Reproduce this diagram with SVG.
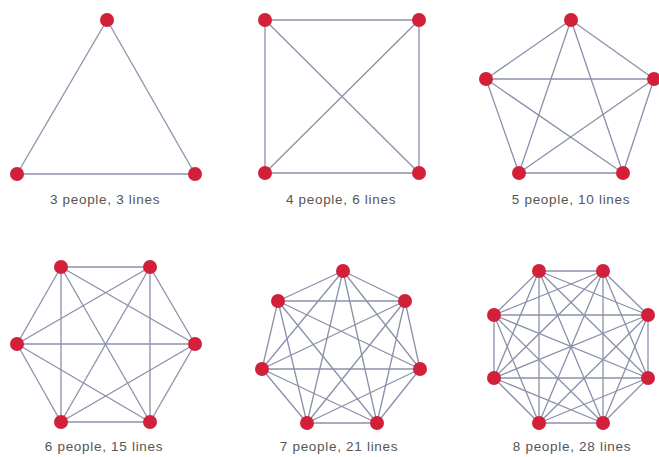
<svg xmlns="http://www.w3.org/2000/svg" width="659" height="457" viewBox="0 0 659 457">
<style>
.e{stroke:#8a90aa;stroke-width:1.3;fill:none}
.n{fill:#d2203a}
.t{font-family:"Liberation Sans",Arial,sans-serif;font-size:13.5px;fill:#555;text-anchor:middle;letter-spacing:0.7px}
</style>
<rect width="659" height="457" fill="#fff"/>
<g id="connectors" class="e">
<g id="g3-edges">
<line x1="107" y1="20" x2="17" y2="174"/><line x1="107" y1="20" x2="195" y2="174"/><line x1="17" y1="174" x2="195" y2="174"/>
</g>
<g id="g4-edges">
<line x1="265" y1="20" x2="419" y2="20"/><line x1="265" y1="20" x2="265" y2="173"/><line x1="265" y1="20" x2="419" y2="173"/>
<line x1="419" y1="20" x2="265" y2="173"/><line x1="419" y1="20" x2="419" y2="173"/><line x1="265" y1="173" x2="419" y2="173"/>
</g>
<g id="g5-edges">
<line x1="571" y1="20" x2="486" y2="79"/><line x1="571" y1="20" x2="654" y2="79"/><line x1="571" y1="20" x2="519" y2="173"/><line x1="571" y1="20" x2="623" y2="173"/>
<line x1="486" y1="79" x2="654" y2="79"/><line x1="486" y1="79" x2="519" y2="173"/><line x1="486" y1="79" x2="623" y2="173"/>
<line x1="654" y1="79" x2="519" y2="173"/><line x1="654" y1="79" x2="623" y2="173"/><line x1="519" y1="173" x2="623" y2="173"/>
</g>
<g id="g6-edges">
<line x1="61" y1="267" x2="150" y2="267"/><line x1="61" y1="267" x2="195" y2="344"/><line x1="61" y1="267" x2="150" y2="422"/><line x1="61" y1="267" x2="61" y2="422"/><line x1="61" y1="267" x2="17" y2="344"/>
<line x1="150" y1="267" x2="195" y2="344"/><line x1="150" y1="267" x2="150" y2="422"/><line x1="150" y1="267" x2="61" y2="422"/><line x1="150" y1="267" x2="17" y2="344"/>
<line x1="195" y1="344" x2="150" y2="422"/><line x1="195" y1="344" x2="61" y2="422"/><line x1="195" y1="344" x2="17" y2="344"/>
<line x1="150" y1="422" x2="61" y2="422"/><line x1="150" y1="422" x2="17" y2="344"/><line x1="61" y1="422" x2="17" y2="344"/>
</g>
<g id="g7-edges">
<line x1="343" y1="271" x2="405" y2="301"/><line x1="343" y1="271" x2="420" y2="369"/><line x1="343" y1="271" x2="377" y2="423"/><line x1="343" y1="271" x2="307" y2="423"/><line x1="343" y1="271" x2="262" y2="369"/><line x1="343" y1="271" x2="278" y2="301"/>
<line x1="405" y1="301" x2="420" y2="369"/><line x1="405" y1="301" x2="377" y2="423"/><line x1="405" y1="301" x2="307" y2="423"/><line x1="405" y1="301" x2="262" y2="369"/><line x1="405" y1="301" x2="278" y2="301"/>
<line x1="420" y1="369" x2="377" y2="423"/><line x1="420" y1="369" x2="307" y2="423"/><line x1="420" y1="369" x2="262" y2="369"/><line x1="420" y1="369" x2="278" y2="301"/>
<line x1="377" y1="423" x2="307" y2="423"/><line x1="377" y1="423" x2="262" y2="369"/><line x1="377" y1="423" x2="278" y2="301"/>
<line x1="307" y1="423" x2="262" y2="369"/><line x1="307" y1="423" x2="278" y2="301"/>
<line x1="262" y1="369" x2="278" y2="301"/>
</g>
<g id="g8-edges">
<line x1="539" y1="271" x2="603" y2="271"/><line x1="539" y1="271" x2="648" y2="315"/><line x1="539" y1="271" x2="648" y2="378"/><line x1="539" y1="271" x2="603" y2="423"/><line x1="539" y1="271" x2="539" y2="423"/><line x1="539" y1="271" x2="494" y2="378"/><line x1="539" y1="271" x2="494" y2="315"/>
<line x1="603" y1="271" x2="648" y2="315"/><line x1="603" y1="271" x2="648" y2="378"/><line x1="603" y1="271" x2="603" y2="423"/><line x1="603" y1="271" x2="539" y2="423"/><line x1="603" y1="271" x2="494" y2="378"/><line x1="603" y1="271" x2="494" y2="315"/>
<line x1="648" y1="315" x2="648" y2="378"/><line x1="648" y1="315" x2="603" y2="423"/><line x1="648" y1="315" x2="539" y2="423"/><line x1="648" y1="315" x2="494" y2="378"/><line x1="648" y1="315" x2="494" y2="315"/>
<line x1="648" y1="378" x2="603" y2="423"/><line x1="648" y1="378" x2="539" y2="423"/><line x1="648" y1="378" x2="494" y2="378"/><line x1="648" y1="378" x2="494" y2="315"/>
<line x1="603" y1="423" x2="539" y2="423"/><line x1="603" y1="423" x2="494" y2="378"/><line x1="603" y1="423" x2="494" y2="315"/>
<line x1="539" y1="423" x2="494" y2="378"/><line x1="539" y1="423" x2="494" y2="315"/>
<line x1="494" y1="378" x2="494" y2="315"/>
</g>
</g>
<g id="graph3">
<circle class="n" cx="107" cy="20" r="7"/><circle class="n" cx="17" cy="174" r="7"/><circle class="n" cx="195" cy="174" r="7"/>
<text class="t" x="105" y="204">3 people, 3 lines</text>
</g>
<g id="graph4">
<circle class="n" cx="265" cy="20" r="7"/><circle class="n" cx="419" cy="20" r="7"/><circle class="n" cx="265" cy="173" r="7"/><circle class="n" cx="419" cy="173" r="7"/>
<text class="t" x="341" y="204">4 people, 6 lines</text>
</g>
<g id="graph5">
<circle class="n" cx="571" cy="20" r="7"/><circle class="n" cx="486" cy="79" r="7"/><circle class="n" cx="654" cy="79" r="7"/><circle class="n" cx="519" cy="173" r="7"/><circle class="n" cx="623" cy="173" r="7"/>
<text class="t" x="571" y="204">5 people, 10 lines</text>
</g>
<g id="graph6">
<circle class="n" cx="61" cy="267" r="7"/><circle class="n" cx="150" cy="267" r="7"/><circle class="n" cx="195" cy="344" r="7"/><circle class="n" cx="150" cy="422" r="7"/><circle class="n" cx="61" cy="422" r="7"/><circle class="n" cx="17" cy="344" r="7"/>
<text class="t" x="104" y="451">6 people, 15 lines</text>
</g>
<g id="graph7">
<circle class="n" cx="343" cy="271" r="7"/><circle class="n" cx="405" cy="301" r="7"/><circle class="n" cx="420" cy="369" r="7"/><circle class="n" cx="377" cy="423" r="7"/><circle class="n" cx="307" cy="423" r="7"/><circle class="n" cx="262" cy="369" r="7"/><circle class="n" cx="278" cy="301" r="7"/>
<text class="t" x="339" y="451">7 people, 21 lines</text>
</g>
<g id="graph8">
<circle class="n" cx="539" cy="271" r="7"/><circle class="n" cx="603" cy="271" r="7"/><circle class="n" cx="648" cy="315" r="7"/><circle class="n" cx="648" cy="378" r="7"/><circle class="n" cx="603" cy="423" r="7"/><circle class="n" cx="539" cy="423" r="7"/><circle class="n" cx="494" cy="378" r="7"/><circle class="n" cx="494" cy="315" r="7"/>
<text class="t" x="572" y="451">8 people, 28 lines</text>
</g>
</svg>
